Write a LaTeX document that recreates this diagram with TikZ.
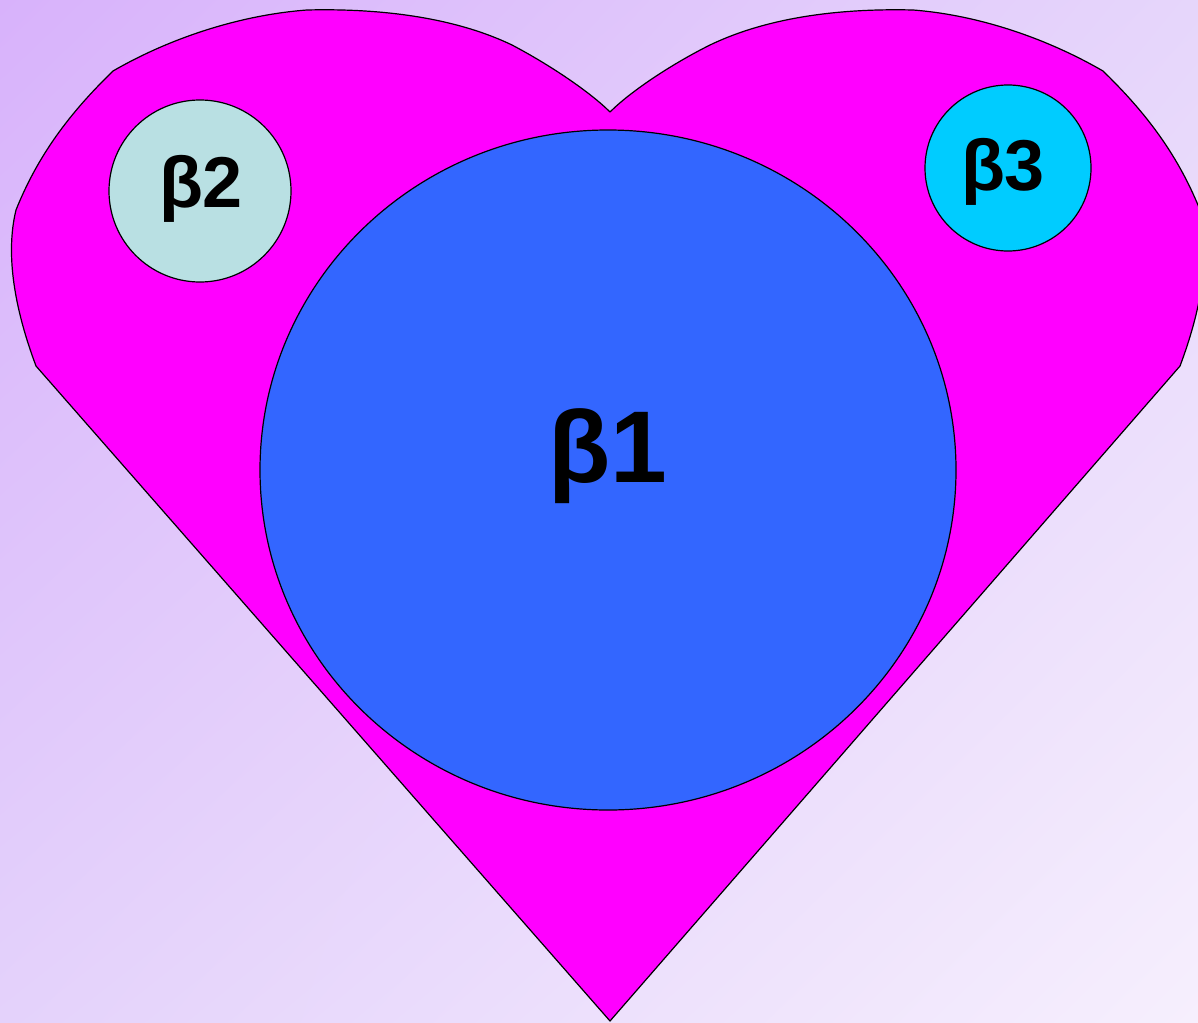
\documentclass[tikz,border=0pt]{standalone}
\usepackage{fontspec}
\setmainfont{Liberation Sans}
\usetikzlibrary{shadings,shapes.geometric}
\definecolor{bgA}{HTML}{D8B2FB}
\definecolor{bgB}{HTML}{F6EFFD}
\definecolor{bgTR}{HTML}{E6D6FB}
\definecolor{bgBL}{HTML}{E4D2FB}
\definecolor{heartc}{HTML}{FF00FF}
\definecolor{bigc}{HTML}{3366FF}
\definecolor{lightc}{HTML}{B9E0E3}
\definecolor{cyanc}{HTML}{00CCFF}
\tikzset{
  ball/.style={circle, draw=black, line width=1.2pt, inner sep=0pt, font=\bfseries},
}
\begin{document}
\begin{tikzpicture}[x=1pt,y=-1pt]
\useasboundingbox (0,0) rectangle (1198,1022);
\clip (0,0) rectangle (1198,1022);
\shade[upper left=bgA, upper right=bgTR, lower left=bgBL, lower right=bgB] (0,0) rectangle (1198,1022);
\draw[fill=heartc, line width=1.2pt, line join=round]
  (610,1021) -- (36,366)
  .. controls (15,310) and (5,255) .. (16,210)
  .. controls (40,150) and (75,108) .. (113,71)
  .. controls (170,38) and (240,15) .. (307,10)
  .. controls (390,8) and (460,20) .. (512,45)
  .. controls (550,65) and (590,92) .. (610,112)
  .. controls (630,92) and (670,65) .. (710,45)
  .. controls (762,20) and (830,8) .. (913,10)
  .. controls (978,15) and (1046,38) .. (1103,71)
  .. controls (1141,108) and (1176,150) .. (1200,210)
  .. controls (1211,255) and (1201,310) .. (1180,366)
  -- cycle;
\node[ball, ellipse, fill=bigc, minimum width=696pt, minimum height=680pt] (b1) at (608,470) {};
\node[font=\bfseries\fontsize{102}{102}\selectfont] (t1) at (608,456) {β1};
\node[ball, fill=lightc, minimum size=182pt] (b2) at (200,191) {};
\node[font=\bfseries\fontsize{72}{72}\selectfont] (t2) at (201,189) {β2};
\node[ball, fill=cyanc, minimum size=166pt] (b3) at (1008,168) {};
\node[font=\bfseries\fontsize{72}{72}\selectfont] (t3) at (1003,172) {β3};
\end{tikzpicture}
\end{document}
